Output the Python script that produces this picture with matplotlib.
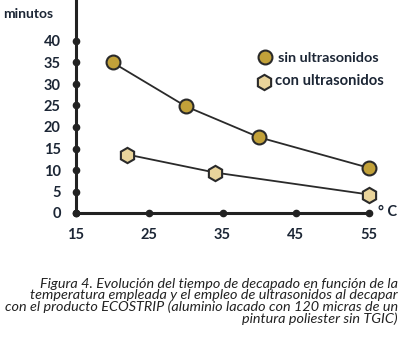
import matplotlib.pyplot as plt

temp_sin = [20, 30, 40, 55]
min_sin = [35, 24.8, 17.6, 10.5]
temp_con = [22, 34, 55]
min_con = [13.6, 9.4, 4.3]
xticks = [15, 25, 35, 45, 55]
yticks = [0, 5, 10, 15, 20, 25, 30, 35, 40]

FONT = 'Lato'
W, H = 401, 345
fig = plt.figure(figsize=(W / 100, H / 100), dpi=100)
x0, x1 = 76, 369
y0, y40 = 213, 41
ytop_val = 40 * (y0 - 0) / (y0 - y40)
ax = fig.add_axes([x0 / W, (H - y0) / H, (x1 - x0) / W, y0 / H])
ax.set_xlim(15, 55)
ax.set_ylim(0, ytop_val)
for s in ['top', 'right']:
    ax.spines[s].set_visible(False)
for s in ['left', 'bottom']:
    ax.spines[s].set_linewidth(2.2)
    ax.spines[s].set_color('#222222')

txtc = '#1c2635'
ax.set_xticks(xticks)
ax.set_yticks(yticks)
ax.tick_params(length=0, labelsize=10.5, colors=txtc)
ax.set_xticklabels([str(v) for v in xticks], fontweight='bold', fontfamily=FONT, color=txtc)
ax.set_yticklabels([str(v) for v in yticks], fontweight='bold', fontfamily=FONT, color=txtc)
ax.tick_params(axis='x', pad=11)
ax.tick_params(axis='y', pad=11)
ax.plot(xticks, [0] * len(xticks), 'o', color='#222222', ms=4.5, clip_on=False, zorder=5)
ax.plot([15] * len(yticks), yticks, 'o', color='#222222', ms=4.5, clip_on=False, zorder=5)

ax.plot(temp_sin, min_sin, '-', color='#2a2a2a', lw=1.3, zorder=3)
ax.plot(temp_sin, min_sin, 'o', ms=10, mfc='#C2A139', mec='#2a2a2a', mew=1.5, clip_on=False, zorder=4)
ax.plot(temp_con, min_con, '-', color='#2a2a2a', lw=1.3, zorder=3)
ax.plot(temp_con, min_con, 'h', ms=11, mfc='#E9D49B', mec='#2a2a2a', mew=1.5, clip_on=False, zorder=4)

fig.add_artist(plt.Line2D([265 / W], [1 - 57 / H], marker='o', ms=10, mfc='#C2A139', mec='#2a2a2a', mew=1.5, transform=fig.transFigure))
fig.add_artist(plt.Line2D([264 / W], [1 - 82 / H], marker='h', ms=11, mfc='#E9D49B', mec='#2a2a2a', mew=1.5, transform=fig.transFigure))
fig.text(278 / W, 1 - 58 / H, 'sin ultrasonidos', fontsize=10.4, fontweight='bold', fontfamily=FONT, color=txtc, va='center')
fig.text(275 / W, 1 - 81 / H, 'con ultrasonidos', fontsize=10.6, fontweight='bold', fontfamily=FONT, color=txtc, va='center')

fig.text(3 / W, 1 - 14 / H, 'minutos', fontsize=10, fontweight='bold', fontfamily=FONT, color=txtc, va='center')
fig.text(378 / W, 1 - 212 / H, '° C', fontsize=10.5, fontweight='bold', fontfamily=FONT, color=txtc, va='center')

caption = ('Figura 4. Evolución del tiempo de decapado en función de la\n'
           'temperatura empleada y el empleo de ultrasonidos al decapar\n'
           'con el producto ECOSTRIP (aluminio lacado con 120 micras de un\n'
           'pintura poliester sin TGIC)')
fig.text(398 / W, 1 - 278 / H, caption, fontsize=10.4, style='italic', fontfamily=FONT,
         color='#222222', ha='right', va='top', multialignment='right', linespacing=0.93)

fig.savefig('out.png', dpi=100)
